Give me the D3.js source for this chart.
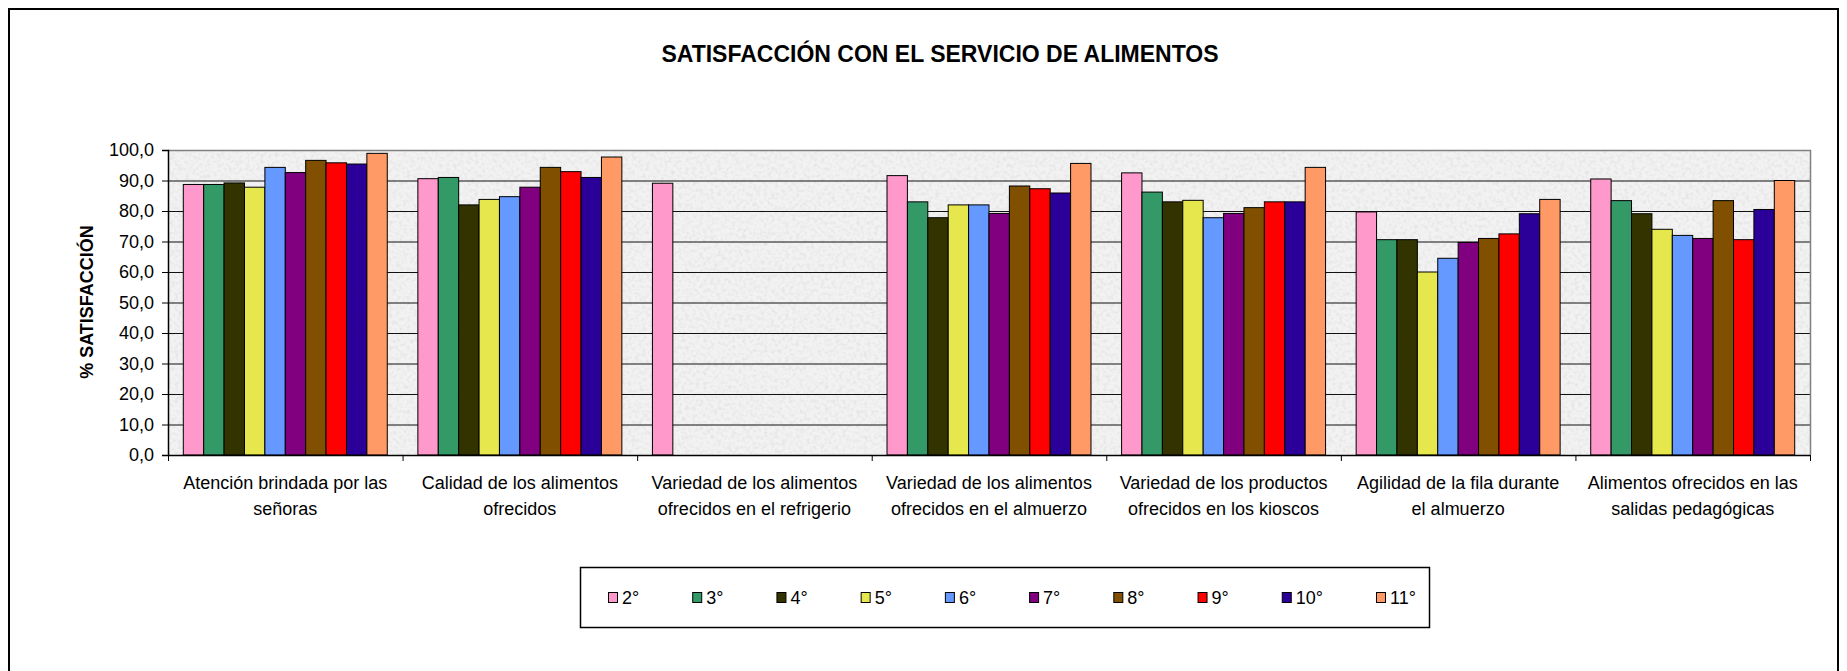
<!DOCTYPE html>
<html>
<head>
<meta charset="utf-8">
<script src="https://cdn.jsdelivr.net/npm/d3@7"></script>
<style>
    body { margin: 0; background: #fff; }
    svg { display: block; font-family: Arial, "Liberation Sans", sans-serif; }
</style>
</head>
<body>
<svg id="chart" width="1847" height="671"></svg>
<script>
var categories = [
    "Atención brindada por las señoras",
    "Calidad de los alimentos ofrecidos",
    "Variedad de los alimentos ofrecidos en el refrigerio",
    "Variedad de los alimentos ofrecidos en el almuerzo",
    "Variedad de los productos ofrecidos en los kioscos",
    "Agilidad de la fila durante el almuerzo",
    "Alimentos ofrecidos en las salidas pedagógicas"
];

var grades = ["2°", "3°", "4°", "5°", "6°", "7°", "8°", "9°", "10°", "11°"];

var grado2 = [88.7, 90.6, 89.1, 91.6, 92.5, 79.7, 90.5];
var grado3 = [88.7, 91.0, null, 83.0, 86.2, 70.6, 83.4];
var grado4 = [89.2, 82.0, null, 77.8, 83.0, 70.6, 79.1];
var grado5 = [87.8, 83.8, null, 82.0, 83.5, 60.0, 74.0];
var grado6 = [94.3, 84.7, null, 82.0, 77.8, 64.5, 72.0];
var grado7 = [92.6, 87.8, null, 79.2, 79.2, 69.7, 71.0];
var grado8 = [96.6, 94.3, null, 88.2, 81.1, 71.0, 83.4];
var grado9 = [95.8, 92.9, null, 87.3, 83.0, 72.5, 70.6];
var grado10 = [95.4, 91.0, null, 85.9, 83.0, 79.1, 80.5];
var grado11 = [98.9, 97.7, null, 95.6, 94.3, 83.8, 90.0];

var yTicks = [0, 10, 20, 30, 40, 50, 60, 70, 80, 90, 100];

var colors = ["#FF99CC", "#339966", "#333300", "#E6E64D", "#6699FF",
    "#800080", "#805000", "#FF0000", "#2B0099", "#FF9966"];

var seriesValues = [grado2, grado3, grado4, grado5, grado6, grado7, grado8, grado9, grado10, grado11];

var svg = d3.select("#chart");

var plotLeft = 168, plotRight = 1810, plotTop = 150, plotBottom = 455;

var locale = d3.formatLocale({decimal: ",", thousands: ".", grouping: [3], currency: ["", ""]});
var fmt = locale.format(".1f");

// outer frame
svg.append("rect")
    .attr("x", 9)
    .attr("y", 9)
    .attr("width", 1829)
    .attr("height", 720)
    .attr("fill", "#fff")
    .attr("stroke", "#000")
    .attr("stroke-width", 2);

svg.append("text")
    .attr("x", 940)
    .attr("y", 62)
    .attr("text-anchor", "middle")
    .attr("font-size", 23)
    .attr("font-weight", "bold")
    .text("SATISFACCIÓN CON EL SERVICIO DE ALIMENTOS");

var x0 = d3.scaleBand()
    .domain(categories)
    .range([plotLeft, plotRight])
    .paddingInner(0)
    .paddingOuter(0);

var x1 = d3.scaleBand()
    .domain(grades)
    .range([0, x0.bandwidth()])
    .paddingInner(0)
    .paddingOuter(0.75);

var y = d3.scaleLinear()
    .domain([0, 100])
    .range([plotBottom, plotTop]);

var color = d3.scaleOrdinal()
    .domain(grades)
    .range(colors);

// plot area background with a speckled texture
var defs = svg.append("defs");
var filter = defs.append("filter")
    .attr("id", "speckle")
    .attr("x", 0).attr("y", 0).attr("width", 1).attr("height", 1);
filter.append("feTurbulence")
    .attr("type", "fractalNoise")
    .attr("baseFrequency", 0.28)
    .attr("numOctaves", 2)
    .attr("seed", 7);
filter.append("feColorMatrix")
    .attr("type", "matrix")
    .attr("values", "0 0 0 0 0.6  0 0 0 0 0.6  0 0 0 0 0.6  2.2 0 0 0 -0.95");

svg.append("rect")
    .attr("x", plotLeft)
    .attr("y", plotTop)
    .attr("width", plotRight - plotLeft)
    .attr("height", plotBottom - plotTop)
    .attr("fill", "#F2F2F2");

svg.append("rect")
    .attr("x", plotLeft)
    .attr("y", plotTop)
    .attr("width", plotRight - plotLeft)
    .attr("height", plotBottom - plotTop)
    .attr("filter", "url(#speckle)")
    .attr("opacity", 0.4);

// gridlines
svg.append("g")
    .selectAll("line")
    .data(yTicks.filter(function (d) { return d > 0 && d < 100; }))
    .enter().append("line")
    .attr("x1", plotLeft)
    .attr("x2", plotRight)
    .attr("y1", function (d) { return y(d) + 0.5; })
    .attr("y2", function (d) { return y(d) + 0.5; })
    .attr("stroke", "#111")
    .attr("stroke-width", 1);

// top and right border of the plot area
svg.append("path")
    .attr("d", "M" + plotLeft + "," + (plotTop + 0.5) + "H" + (plotRight + 0.5) + "V" + plotBottom)
    .attr("fill", "none")
    .attr("stroke", "#808080")
    .attr("stroke-width", 1.5);

// bars
var table = categories.map(function (c, i) {
    return {
        category: c,
        values: grades.map(function (g, j) {
            return {grade: g, value: seriesValues[j][i]};
        })
    };
});

var group = svg.append("g")
    .selectAll("g")
    .data(table)
    .enter().append("g")
    .attr("transform", function (d) {
        return "translate(" + x0(d.category) + ",0)";
    });

group.selectAll("rect")
    .data(function (d) {
        return d.values.filter(function (v) { return v.value != null; });
    })
    .enter().append("rect")
    .attr("x", function (d) { return x1(d.grade); })
    .attr("y", function (d) { return y(d.value); })
    .attr("width", x1.bandwidth())
    .attr("height", function (d) { return y(0) - y(d.value); })
    .attr("fill", function (d) { return color(d.grade); })
    .attr("stroke", "#000")
    .attr("stroke-width", 1);

// y axis
var yAxis = svg.append("g")
    .attr("transform", "translate(" + plotLeft + ",0)")
    .call(d3.axisLeft(y)
        .tickValues(yTicks)
        .tickSize(6)
        .tickPadding(8)
        .tickFormat(fmt));

yAxis.select(".domain").attr("stroke", "#000").attr("stroke-width", 1.5);
yAxis.selectAll(".tick line").attr("stroke", "#000");
yAxis.selectAll("text")
    .attr("font-size", 18)
    .attr("font-family", "Arial, 'Liberation Sans', sans-serif")
    .attr("fill", "#000");

svg.append("text")
    .attr("transform", "translate(93,302) rotate(-90)")
    .attr("text-anchor", "middle")
    .attr("font-size", 18)
    .attr("font-weight", "bold")
    .text("% SATISFACCIÓN");

// x axis: line, boundary ticks, wrapped labels
svg.append("line")
    .attr("x1", plotLeft)
    .attr("x2", plotRight)
    .attr("y1", plotBottom + 0.5)
    .attr("y2", plotBottom + 0.5)
    .attr("stroke", "#000")
    .attr("stroke-width", 1.5);

var bounds = categories.map(function (c) { return x0(c); }).concat([plotRight]);

svg.append("g")
    .selectAll("line")
    .data(bounds)
    .enter().append("line")
    .attr("x1", function (d) { return d + 0.5; })
    .attr("x2", function (d) { return d + 0.5; })
    .attr("y1", plotBottom)
    .attr("y2", plotBottom + 6)
    .attr("stroke", "#000");

var labels = svg.append("g")
    .selectAll("text")
    .data(categories)
    .enter().append("text")
    .attr("x", function (d) { return x0(d) + x0.bandwidth() / 2; })
    .attr("y", 489)
    .attr("text-anchor", "middle")
    .attr("font-size", 18)
    .text(function (d) { return d; });

labels.call(wrap, 216);

function wrap(text, width) {
    text.each(function () {
        var t = d3.select(this),
            words = t.text().split(/\s+/),
            xPos = t.attr("x"),
            yPos = t.attr("y"),
            line = [],
            lineNumber = 0,
            tspan = t.text(null).append("tspan").attr("x", xPos).attr("y", yPos);
        words.forEach(function (word) {
            line.push(word);
            tspan.text(line.join(" "));
            if (tspan.node().getComputedTextLength() > width && line.length > 1) {
                line.pop();
                tspan.text(line.join(" "));
                line = [word];
                lineNumber++;
                tspan = t.append("tspan")
                    .attr("x", xPos)
                    .attr("y", +yPos + lineNumber * 25.6)
                    .text(word);
            }
        });
    });
}

// legend
var legend = svg.append("g");

legend.append("rect")
    .attr("x", 580.5)
    .attr("y", 567.5)
    .attr("width", 849)
    .attr("height", 60)
    .attr("fill", "#fff")
    .attr("stroke", "#000")
    .attr("stroke-width", 1.5);

var lx = 608;
grades.forEach(function (g) {
    var item = legend.append("g").attr("transform", "translate(" + lx + ",0)");
    item.append("rect")
        .attr("x", 0.5)
        .attr("y", 592.5)
        .attr("width", 9)
        .attr("height", 10)
        .attr("fill", color(g))
        .attr("stroke", "#000");
    var label = item.append("text")
        .attr("x", 14)
        .attr("y", 603.5)
        .attr("font-size", 18)
        .text(g);
    lx += 14 + label.node().getComputedTextLength() + 53;
});
</script>
</body>
</html>
